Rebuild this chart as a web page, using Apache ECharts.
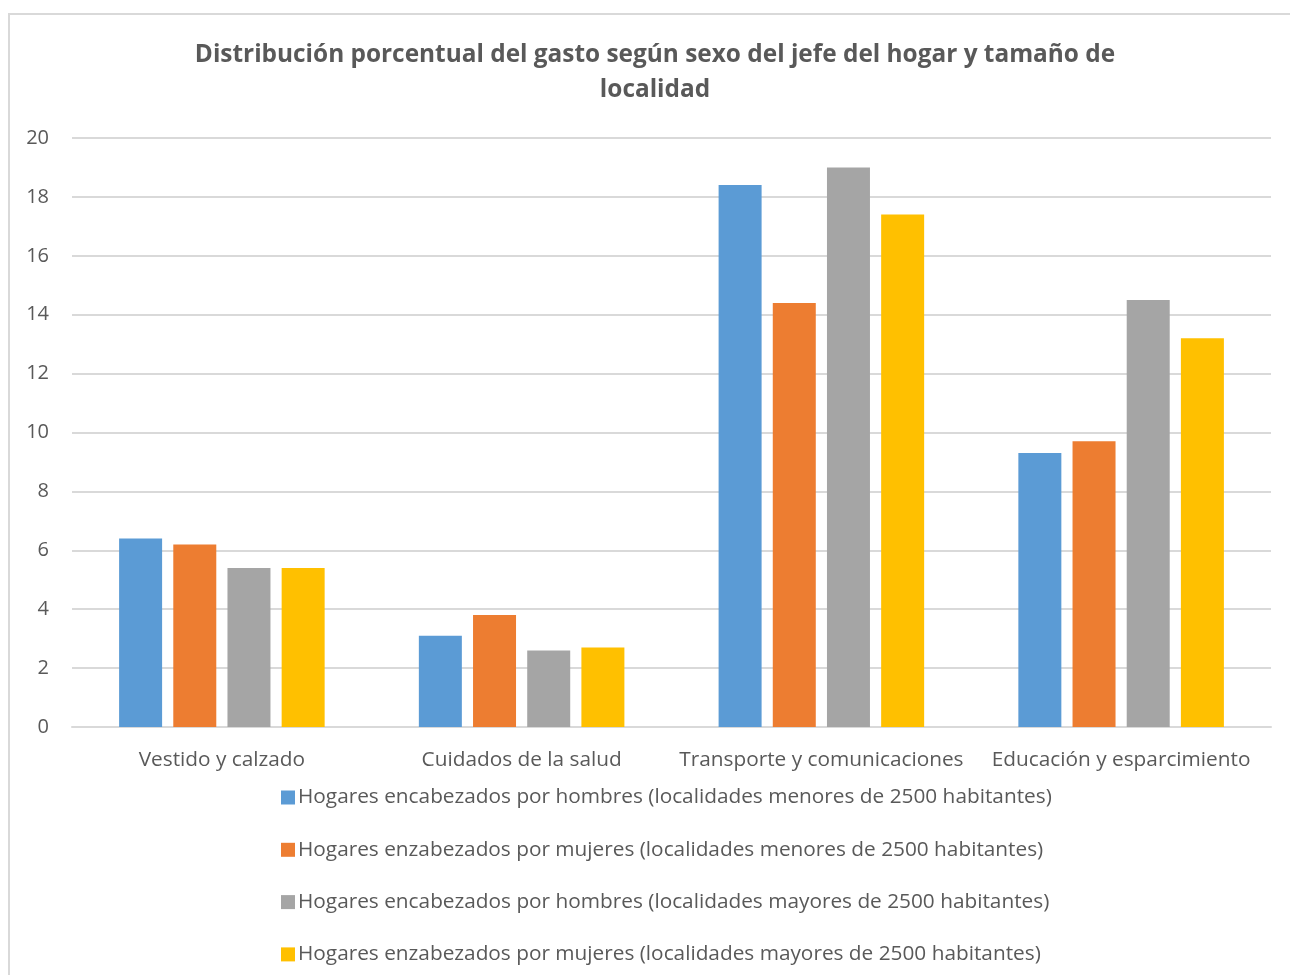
<!DOCTYPE html>
<html>
<head>
<meta charset="utf-8">
<script src="https://cdn.jsdelivr.net/npm/echarts@6/dist/echarts.min.js"></script>
<style>
  html, body { margin: 0; padding: 0; background: #fff; }
  #frame { position: absolute; left: 8px; top: 13px; width: 1290px; height: 980px; border: 2px solid #d9d9d9; box-sizing: border-box; }
  #main { position: absolute; left: 0; top: 0; width: 1290px; height: 975px; }
</style>
</head>
<body>
<div id="frame"></div>
<div id="main"></div>
<script>
var categories = ['Vestido y calzado', 'Cuidados de la salud', 'Transporte y comunicaciones', 'Educación y esparcimiento'];
var seriesNames = [
  'Hogares encabezados por hombres (localidades menores de 2500 habitantes)',
  'Hogares enzabezados por mujeres (localidades menores de 2500 habitantes)',
  'Hogares encabezados por hombres (localidades mayores de 2500 habitantes)',
  'Hogares enzabezados por mujeres (localidades mayores de 2500 habitantes)'
];
var hombresMenores = [6.4, 3.1, 18.4, 9.3];
var mujeresMenores = [6.2, 3.8, 14.4, 9.7];
var hombresMayores = [5.4, 2.6, 19.0, 14.5];
var mujeresMayores = [5.4, 2.7, 17.4, 13.2];
var colors = ['#5B9BD5', '#ED7D31', '#A5A5A5', '#FFC000'];

var font = '"Open Sans", Lato, sans-serif';
var chart = echarts.init(document.getElementById('main'));

var values = [hombresMenores, mujeresMenores, hombresMayores, mujeresMayores];
var series = [];
for (var i = 0; i < values.length; i++) {
  series.push({
    name: seriesNames[i],
    type: 'bar',
    data: values[i],
    barWidth: 43,
    barGap: '26%',
    itemStyle: { color: colors[i] }
  });
}

chart.setOption({
  animation: false,
  color: colors,
  textStyle: { fontFamily: font },
  title: {
    text: 'Distribución porcentual del gasto según sexo del jefe del hogar y tamaño de\nlocalidad',
    left: 650,
    textAlign: 'center',
    top: 33,
    textStyle: { fontFamily: font, fontSize: 24.4, fontWeight: 'bold', color: '#595959', lineHeight: 35 }
  },
  legend: {
    orient: 'vertical',
    left: 276,
    top: 782,
    itemWidth: 14,
    itemHeight: 14,
    itemGap: 31.3,
    icon: 'rect',
    data: seriesNames,
    textStyle: { fontFamily: font, fontSize: 20.8, color: '#595959', padding: [0, 0, 0, -2] }
  },
  grid: { left: 72, right: 19, top: 138, bottom: 248, containLabel: false },
  xAxis: {
    type: 'category',
    data: categories,
    axisLine: { show: true, lineStyle: { color: '#d9d9d9', width: 2 } },
    axisTick: { show: false },
    axisLabel: { fontFamily: font, fontSize: 20.8, color: '#595959', margin: 23, interval: 0 }
  },
  yAxis: {
    type: 'value',
    min: 0,
    max: 20,
    interval: 2,
    axisLine: { show: false },
    axisTick: { show: false },
    axisLabel: { fontFamily: font, fontSize: 20, color: '#595959', margin: 23 },
    splitLine: { lineStyle: { color: '#d9d9d9', width: 2 } }
  },
  series: series
});
</script>
</body>
</html>
